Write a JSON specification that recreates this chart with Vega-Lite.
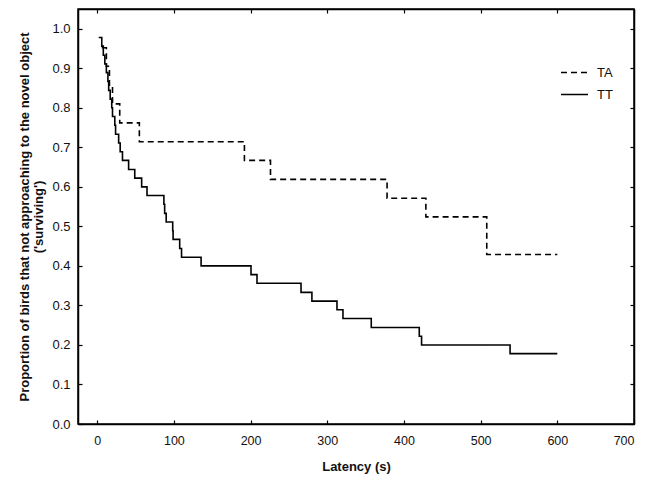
{
  "$schema": "https://vega.github.io/schema/vega-lite/v6.json",
  "width": 556,
  "height": 415,
  "autosize": {"type": "none"},
  "padding": {"left": 78, "top": 9, "right": 18, "bottom": 59},
  "background": "white",
  "config": {
    "font": "Liberation Sans",
    "view": {"stroke": "black", "strokeWidth": 1.5},
    "axis": {"grid": false, "domainColor": "black", "tickColor": "black", "labelColor": "#111", "titleColor": "#111", "labelFont": "Liberation Sans", "titleFont": "Liberation Sans"}
  },
  "data": {
    "values": [
      {"group": "TA", "t": 6, "p": 0.952},
      {"group": "TA", "t": 12, "p": 0.905},
      {"group": "TA", "t": 16, "p": 0.857},
      {"group": "TA", "t": 20, "p": 0.810},
      {"group": "TA", "t": 29.4, "p": 0.762},
      {"group": "TA", "t": 55, "p": 0.714},
      {"group": "TA", "t": 192, "p": 0.667},
      {"group": "TA", "t": 226, "p": 0.619},
      {"group": "TA", "t": 378, "p": 0.571},
      {"group": "TA", "t": 428.6, "p": 0.524},
      {"group": "TA", "t": 508, "p": 0.429},
      {"group": "TA", "t": 600, "p": 0.429},
      {"group": "TT", "t": 2, "p": 0.978},
      {"group": "TT", "t": 6, "p": 0.956},
      {"group": "TT", "t": 8, "p": 0.933},
      {"group": "TT", "t": 10, "p": 0.911},
      {"group": "TT", "t": 12, "p": 0.889},
      {"group": "TT", "t": 14, "p": 0.867},
      {"group": "TT", "t": 15, "p": 0.844},
      {"group": "TT", "t": 17, "p": 0.822},
      {"group": "TT", "t": 19, "p": 0.8},
      {"group": "TT", "t": 20, "p": 0.778},
      {"group": "TT", "t": 23, "p": 0.756},
      {"group": "TT", "t": 24, "p": 0.733},
      {"group": "TT", "t": 28, "p": 0.711},
      {"group": "TT", "t": 30, "p": 0.689},
      {"group": "TT", "t": 33, "p": 0.667},
      {"group": "TT", "t": 41, "p": 0.644},
      {"group": "TT", "t": 49, "p": 0.622},
      {"group": "TT", "t": 58, "p": 0.6},
      {"group": "TT", "t": 65, "p": 0.578},
      {"group": "TT", "t": 87, "p": 0.556},
      {"group": "TT", "t": 88, "p": 0.533},
      {"group": "TT", "t": 90, "p": 0.511},
      {"group": "TT", "t": 98.5, "p": 0.489},
      {"group": "TT", "t": 99, "p": 0.467},
      {"group": "TT", "t": 107.6, "p": 0.444},
      {"group": "TT", "t": 110, "p": 0.422},
      {"group": "TT", "t": 135.5, "p": 0.4},
      {"group": "TT", "t": 200.6, "p": 0.378},
      {"group": "TT", "t": 208.4, "p": 0.356},
      {"group": "TT", "t": 265.8, "p": 0.333},
      {"group": "TT", "t": 280, "p": 0.311},
      {"group": "TT", "t": 312.7, "p": 0.289},
      {"group": "TT", "t": 320.5, "p": 0.267},
      {"group": "TT", "t": 357.4, "p": 0.244},
      {"group": "TT", "t": 420, "p": 0.222},
      {"group": "TT", "t": 423, "p": 0.2},
      {"group": "TT", "t": 538.4, "p": 0.178},
      {"group": "TT", "t": 600, "p": 0.178}
    ]
  },
  "layer": [
    {
      "mark": {"type": "line", "interpolate": "step-after", "color": "black", "strokeWidth": 1.6},
      "encoding": {
        "x": {
          "field": "t", "type": "quantitative",
          "scale": {"domain": [-25, 700], "nice": false, "zero": false},
          "axis": {"orient": "bottom", "values": [0, 100, 200, 300, 400, 500, 600, 700], "tickSize": -4, "tickWidth": 1.2, "labelPadding": 14, "labelFontSize": 12.5, "title": "Latency (s)", "titleFontSize": 13, "titleFontWeight": "bold", "titlePadding": 14, "domainWidth": 1.5}
        },
        "y": {
          "field": "p", "type": "quantitative",
          "scale": {"domain": [0, 1.05], "nice": false},
          "axis": {"orient": "left", "values": [0, 0.1, 0.2, 0.3, 0.4, 0.5, 0.6, 0.7, 0.8, 0.9, 1.0], "format": ".1f", "tickSize": -4, "tickWidth": 1.2, "labelPadding": 12, "labelFontSize": 13, "title": ["Proportion of birds that not approaching to the novel object", "('surviving')"], "titleFontSize": 13, "titleFontWeight": "bold", "titleLineHeight": 14, "titlePadding": 6, "domainWidth": 1.5}
        },
        "strokeDash": {
          "field": "group", "type": "nominal",
          "scale": {"domain": ["TA", "TT"], "range": [[6, 4], [1, 0]]},
          "legend": {"title": null, "orient": "none", "legendX": 482, "legendY": 49, "symbolType": "stroke", "symbolSize": 729, "symbolStrokeColor": "black", "symbolStrokeWidth": 1.6, "labelFontSize": 13, "labelColor": "#111", "rowPadding": -8, "labelOffset": 8}
        }
      }
    },
    {
      "mark": {"type": "line", "interpolate": "step-after", "opacity": 0},
      "encoding": {
        "x": {
          "field": "t", "type": "quantitative",
          "scale": {"domain": [-25, 700], "nice": false, "zero": false},
          "axis": {"orient": "top", "values": [0, 100, 200, 300, 400, 500, 600, 700], "tickSize": -4, "tickWidth": 1.2, "labels": false, "title": null, "domainWidth": 1.5}
        },
        "y": {
          "field": "p", "type": "quantitative",
          "scale": {"domain": [0, 1.05], "nice": false},
          "axis": {"orient": "right", "values": [0, 0.1, 0.2, 0.3, 0.4, 0.5, 0.6, 0.7, 0.8, 0.9, 1.0], "tickSize": -4, "tickWidth": 1.2, "labels": false, "title": null, "domainWidth": 1.5}
        },
        "detail": {"field": "group", "type": "nominal"}
      }
    }
  ],
  "resolve": {"axis": {"x": "independent", "y": "independent"}}
}
